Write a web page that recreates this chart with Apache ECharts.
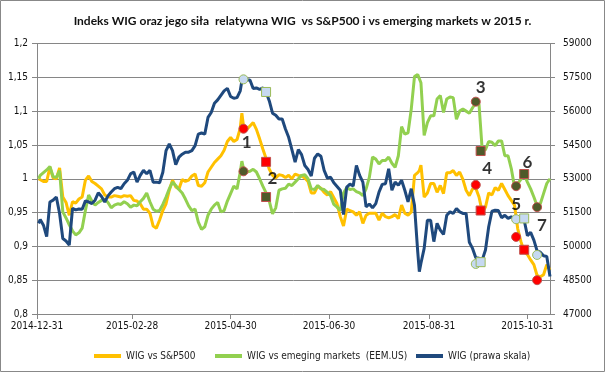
<!DOCTYPE html>
<html><head><meta charset="utf-8">
<script src="https://cdn.jsdelivr.net/npm/echarts@6/dist/echarts.min.js"></script>
<style>html,body{margin:0;padding:0;background:#fff}#c{width:605px;height:372px}</style>
</head><body><div id="c"></div>
<script>
const dates = ['2015-01-01','2015-01-02','2015-01-04','2015-01-06','2015-01-08','2015-01-10','2015-01-12','2015-01-14','2015-01-16','2015-01-18','2015-01-20','2015-01-22','2015-01-24','2015-01-26','2015-01-28','2015-01-30',
'2015-02-01','2015-02-03','2015-02-05','2015-02-07','2015-02-09','2015-02-11','2015-02-13','2015-02-15','2015-02-17','2015-02-19','2015-02-21','2015-02-23','2015-02-25','2015-02-27',
'2015-03-01','2015-03-03','2015-03-05','2015-03-07','2015-03-09','2015-03-11','2015-03-13','2015-03-15','2015-03-17','2015-03-19','2015-03-21','2015-03-23','2015-03-25','2015-03-27','2015-03-29','2015-03-31',
'2015-04-02','2015-04-04','2015-04-06','2015-04-08','2015-04-10','2015-04-12','2015-04-14','2015-04-16','2015-04-18','2015-04-20','2015-04-22','2015-04-24','2015-04-26','2015-04-28','2015-04-30',
'2015-05-02','2015-05-04','2015-05-06','2015-05-07','2015-05-08','2015-05-10','2015-05-12','2015-05-14','2015-05-16','2015-05-18','2015-05-20','2015-05-22','2015-05-24','2015-05-26','2015-05-28','2015-05-30',
'2015-06-01','2015-06-03','2015-06-05','2015-06-07','2015-06-09','2015-06-11','2015-06-13','2015-06-15','2015-06-17','2015-06-19','2015-06-21','2015-06-23','2015-06-25','2015-06-27','2015-06-29',
'2015-07-01','2015-07-03','2015-07-05','2015-07-07','2015-07-09','2015-07-11','2015-07-13','2015-07-15','2015-07-17','2015-07-19','2015-07-21','2015-07-23','2015-07-25','2015-07-27','2015-07-29','2015-07-31',
'2015-08-02','2015-08-04','2015-08-06','2015-08-08','2015-08-10','2015-08-12','2015-08-14','2015-08-16','2015-08-18','2015-08-20','2015-08-22','2015-08-24','2015-08-25','2015-08-26','2015-08-28','2015-08-30',
'2015-09-01','2015-09-03','2015-09-05','2015-09-07','2015-09-09','2015-09-11','2015-09-13','2015-09-15','2015-09-17','2015-09-19','2015-09-21','2015-09-23','2015-09-25','2015-09-27','2015-09-29',
'2015-10-01','2015-10-03','2015-10-05','2015-10-07','2015-10-09','2015-10-11','2015-10-13','2015-10-15','2015-10-17','2015-10-19','2015-10-21','2015-10-23','2015-10-25','2015-10-27','2015-10-29','2015-10-31',
'2015-11-02','2015-11-04','2015-11-06','2015-11-08','2015-11-10','2015-11-12','2015-11-14'];
const sp = [1.000,0.998,0.996,0.996,1.017,1.001,1.000,1.016,0.973,0.965,0.946,0.966,0.964,0.970,0.973,0.998,
1.004,0.996,0.993,0.989,0.985,0.976,0.973,0.973,0.975,0.974,0.973,0.975,0.974,0.975,
0.968,0.967,0.963,0.955,0.955,0.949,0.930,0.927,0.939,0.953,0.963,0.983,0.998,0.988,0.985,0.999,
0.996,0.998,1.004,1.007,0.990,0.989,0.994,1.010,1.017,1.024,1.029,1.034,1.042,1.055,1.061,
1.055,1.058,1.075,1.097,1.078,1.073,1.078,1.083,1.073,1.059,1.044,1.030,1.014,1.005,1.001,1.006,
1.005,1.002,1.005,1.000,1.007,1.005,1.004,1.001,0.996,0.979,0.979,0.989,0.986,0.980,0.976,
0.981,0.972,0.963,0.944,0.930,0.955,0.953,0.951,0.946,0.951,0.934,0.946,0.949,0.949,0.949,0.939,
0.949,0.944,0.942,0.944,0.947,0.941,0.961,0.949,0.946,0.951,1.005,1.009,1.012,1.020,0.973,0.979,
0.993,0.993,0.980,0.990,0.978,1.009,1.009,1.012,1.005,1.010,0.999,0.983,0.975,0.985,0.986,
0.973,0.951,0.958,0.979,0.976,0.987,0.983,0.993,0.984,0.975,0.968,0.961,0.926,0.907,0.892,0.888,
0.880,0.873,0.857,0.855,0.858,0.873,0.865];
const em = [1.000,1.005,1.009,1.013,1.018,1.003,1.002,1.012,0.951,0.942,0.932,0.923,0.917,0.920,0.927,0.953,
0.976,0.967,0.961,0.965,0.968,0.970,0.965,0.957,0.961,0.963,0.962,0.966,0.963,0.958,
0.961,0.960,0.966,0.971,0.979,0.966,0.955,0.952,0.953,0.962,0.973,0.985,0.995,0.990,0.984,0.979,
0.970,0.960,0.953,0.955,0.936,0.925,0.929,0.946,0.955,0.961,0.965,0.951,0.953,0.967,0.978,
0.989,0.985,1.010,1.026,1.015,1.010,1.011,1.014,1.010,1.000,0.989,0.979,0.967,0.948,0.957,0.983,
0.985,0.986,0.992,0.990,0.995,1.000,1.005,1.006,1.000,0.985,0.984,0.990,0.985,0.984,0.980,
0.975,0.962,0.958,0.953,0.979,0.987,0.984,0.985,0.981,0.979,0.975,0.985,1.002,1.032,1.029,1.022,
1.027,1.027,1.032,1.023,1.017,1.034,1.077,1.066,1.068,1.103,1.151,1.154,1.153,1.142,1.064,1.083,
1.093,1.093,1.118,1.123,1.098,1.118,1.121,1.120,1.088,1.100,1.103,1.100,1.097,1.105,1.112,
1.110,1.042,1.043,1.055,1.054,1.049,1.056,1.056,1.034,1.034,1.015,0.988,0.993,0.999,1.006,0.995,
0.985,0.973,0.960,0.963,0.978,0.993,1.000];
const wig = [51020,51190,50940,50430,51970,52050,52190,51460,50350,50240,50060,51680,51620,51660,51650,52020,
51970,51900,52050,52380,52210,51970,52240,52410,52560,52620,52560,52780,52930,53220,
53300,52850,53150,53370,53220,53370,52850,52850,52820,53290,54250,54540,54250,53620,53960,54090,
54180,54180,54250,54470,54980,55030,54980,55720,55940,56350,56500,56700,56900,57010,56650,
56570,56600,56900,57350,57410,57380,57380,57000,57030,56970,57030,56850,56450,55910,55820,55650,
55650,55210,54840,54290,53740,54290,54070,53590,53410,53120,53910,54100,54000,53370,53030,
53070,52820,52660,52490,51410,52630,52760,52680,53590,53150,52850,51750,51880,51710,51900,52410,
52750,52780,53440,52490,52850,52710,52930,52490,51970,52560,51820,49770,48880,49250,49910,51160,
51160,50210,51020,50720,50530,51380,51530,51460,51680,51530,51460,51460,50180,49910,49500,
49470,49400,49840,50870,51560,51600,51590,51270,51380,51240,51310,51240,51240,51310,51160,50470,
50620,50280,49800,49740,49580,49550,48660];

const startDate = '2014-12-31';
const endDate = '2015-11-14';
const tickDates = ['2014-12-31','2015-02-28','2015-04-30','2015-06-30','2015-08-31','2015-10-31'];
const rightTicks = [47000,48500,50000,51500,53000,54500,56000,57500,59000];

const evDates = ['2015-05-08','2015-05-22','2015-09-29','2015-10-02','2015-10-24','2015-10-29','2015-11-06'];
const evSp  = [1.074,1.025,0.991,0.953,0.914,0.895,0.850];
const evEm  = [1.011,0.973,1.114,1.041,0.989,1.007,0.958];
const evWig = [57410,56850,49220,49300,51205,51240,49620];

const lblTexts = ['1','2','3','4','5','6','7'];
const lblDates = ['2015-05-10','2015-05-26','2015-10-02','2015-10-06','2015-10-24','2015-10-31','2015-11-09'];
const lblVals  = [1.054,1.000,1.135,1.015,0.962,1.0235,0.931];

const U = s => { const p = s.split('-'); return Date.UTC(+p[0], +p[1]-1, +p[2]); };
const DAY = 86400000;
const X = s => Math.round((U(s) - U(startDate)) / DAY);
const pairs = (ds, vs) => ds.map((d,i) => [X(d), vs[i]]);
const shape = i => (i % 2 === 0 ? 'circle' : 'rect');
const evData = (vs) => vs.map((v,i) => ({value:[X(evDates[i]), v], symbol: shape(i)}));
const fmtDate = v => { const d = new Date(U(startDate) + Math.round(v) * DAY); const z = n => (n<10?'0':'')+n; return d.getUTCFullYear()+'-'+z(d.getUTCMonth()+1)+'-'+z(d.getUTCDate()); };

const FONT = '"DejaVu Sans Condensed","DejaVu Sans",sans-serif';
const GRID = '#868686';
const names = ['WIG vs S&P500','WIG vs emeging markets  (EEM.US)','WIG (prawa skala)'];

const chart = echarts.init(document.getElementById('c'), null, {renderer:'canvas'});
const legendBase = {top: 346, itemWidth: 27, itemHeight: 4, icon: 'rect', textStyle:{fontFamily: FONT, fontSize: 10, color:'#222'}, selectedMode:false};
const xTicks = tickDates.map(X);
chart.setOption({
  animation: false,
  graphic: [{type:'rect', shape:{x:0.5,y:0.5,width:604,height:371}, style:{fill:'none', stroke:'#888', lineWidth:1}, silent:true}],
  title: {text: 'Indeks WIG oraz jego siła  relatywna WIG  vs S&P500 i vs emerging markets w 2015 r.', left:'center', top: 10,
    textStyle:{fontFamily:'Lato, sans-serif', fontWeight:'bold', fontSize: 12, color:'#111'}},
  legend: [
    Object.assign({data:[names[0]], left: 89}, legendBase),
    Object.assign({data:[names[1]], left: 210}, legendBase),
    Object.assign({data:[names[2]], left: 411}, legendBase)
  ],
  grid: {left: 37, right: 55, top: 43.5, bottom: 58, containLabel:false},
  xAxis: {type:'value', min: 0, max: X(endDate),
    axisLine:{show:true, lineStyle:{color:GRID}},
    axisTick:{show:true, length:5, lineStyle:{color:GRID}, customValues: xTicks},
    axisLabel:{customValues: xTicks, formatter: fmtDate, fontFamily: FONT, fontSize: 10, color:'#111', margin: 7},
    splitLine:{show:false}},
  yAxis: [
    {type:'value', min:0.8, max:1.2, interval:0.05, position:'left',
      axisLine:{show:true, lineStyle:{color:GRID}}, axisTick:{show:true, length:5, lineStyle:{color:GRID}},
      axisLabel:{fontFamily: FONT, fontSize: 10, color:'#111', margin: 9, formatter: v => String(parseFloat(v.toFixed(2))).replace('.', ',')},
      splitLine:{show:true, lineStyle:{color:GRID, width:1}}},
    {type:'value', min:47000, max:59000, position:'right',
      axisLine:{show:true, lineStyle:{color:GRID}},
      axisTick:{show:true, length:5, lineStyle:{color:GRID}, customValues: rightTicks},
      axisLabel:{customValues: rightTicks, fontFamily: FONT, fontSize: 10, color:'#111', margin: 13, formatter: v => String(v)},
      splitLine:{show:false}}
  ],
  series: [
    {name:names[0], type:'line', data: pairs(dates, sp), yAxisIndex:0, showSymbol:false, symbol:'none', lineStyle:{color:'#FFC000', width:3}, itemStyle:{color:'#FFC000'}, z:2},
    {name:names[1], type:'line', data: pairs(dates, em), yAxisIndex:0, showSymbol:false, symbol:'none', lineStyle:{color:'#92D050', width:3}, itemStyle:{color:'#92D050'}, z:2},
    {name:names[2], type:'line', data: pairs(dates, wig), yAxisIndex:1, showSymbol:false, symbol:'none', lineStyle:{color:'#1F497D', width:3}, itemStyle:{color:'#1F497D'}, z:2},
    {name:'ev_sp', type:'scatter', yAxisIndex:0, data: evData(evSp), symbolSize:9, itemStyle:{color:'#FF0000', borderColor:'#C0504D', borderWidth:1, opacity:1}, z:5},
    {name:'ev_em', type:'scatter', yAxisIndex:0, data: evData(evEm), symbolSize:9, itemStyle:{color:'#4F5A2A', borderColor:'#C0504D', borderWidth:1, opacity:1}, z:5},
    {name:'ev_wig', type:'scatter', yAxisIndex:1, data: evData(evWig), symbolSize:9, itemStyle:{color:'#C6D9F1', borderColor:'#9BBB59', borderWidth:1, opacity:1}, z:5},
    {name:'labels', type:'scatter', yAxisIndex:0, symbolSize:0, data: lblDates.map((d,i)=>({value:[X(d), lblVals[i]], name: lblTexts[i]})),
      label:{show:true, position:'inside', formatter: p => p.name, fontFamily:'Lato, sans-serif', fontWeight:'bold', fontSize:17, color:'#000'}, z:6}
  ]
});
</script></body></html>
